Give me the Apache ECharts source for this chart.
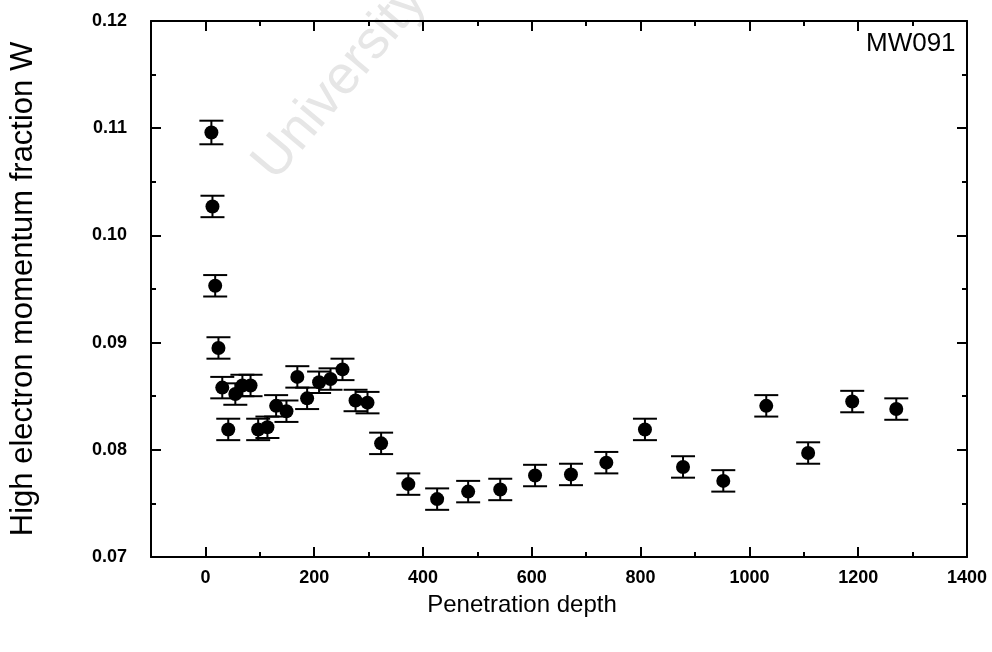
<!DOCTYPE html>
<html>
<head>
<meta charset="utf-8">
<script src="https://cdn.jsdelivr.net/npm/echarts@6/dist/echarts.min.js"></script>
<style>
  html, body { margin: 0; padding: 0; background: #fff; }
  #chart { width: 992px; height: 652px; }
</style>
</head>
<body>
<div id="chart"></div>
<script>
// Penetration depth of each measurement
const depth = [11, 13, 18, 24, 31, 42, 55, 68, 83, 97, 114, 130, 149, 169, 187, 209, 230, 252, 276, 298,
               323, 373, 426, 483, 542, 606, 672, 737, 808, 878, 952, 1031, 1108, 1189, 1270];
// High electron momentum fraction W
const wValue = [0.1096, 0.1027, 0.0953, 0.0895, 0.0858, 0.0819, 0.0852, 0.0860, 0.0860, 0.0819,
                0.0821, 0.0841, 0.0836, 0.0868, 0.0848, 0.0863, 0.0866, 0.0875, 0.0846, 0.0844,
                0.0806, 0.0768, 0.0754, 0.0761, 0.0763, 0.0776, 0.0777, 0.0788, 0.0819, 0.0784,
                0.0771, 0.0841, 0.0797, 0.0845, 0.0838];
// Uncertainty of W
const wError = [0.0011, 0.001, 0.001, 0.001, 0.001, 0.001, 0.001, 0.001, 0.001, 0.001,
                0.001, 0.001, 0.001, 0.001, 0.001, 0.001, 0.001, 0.001, 0.001, 0.001,
                0.001, 0.001, 0.001, 0.001, 0.001, 0.001, 0.001, 0.001, 0.001, 0.001,
                0.001, 0.001, 0.001, 0.001, 0.001];
// Axis ticks
const xMajorTicks = [0, 200, 400, 600, 800, 1000, 1200, 1400];
const xMinorTicks = [100, 300, 500, 700, 900, 1100, 1300];
const sampleLabel = 'MW091';

const points = depth.map((d, i) => [d, wValue[i]]);
const bars = depth.map((d, i) => [d, wValue[i] - wError[i], wValue[i] + wError[i]]);

const FONT = '"Liberation Sans", Arial, sans-serif';
const INK = '#000';

function errorBar(params, api) {
  const x = api.value(0);
  const lo = api.coord([x, api.value(1)]);
  const hi = api.coord([x, api.value(2)]);
  const half = 12;
  const style = { stroke: INK, lineWidth: 2 };
  return {
    type: 'group',
    children: [
      { type: 'line', shape: { x1: hi[0], y1: hi[1], x2: lo[0], y2: lo[1] }, style },
      { type: 'line', shape: { x1: hi[0] - half, y1: hi[1], x2: hi[0] + half, y2: hi[1] }, style },
      { type: 'line', shape: { x1: lo[0] - half, y1: lo[1], x2: lo[0] + half, y2: lo[1] }, style }
    ]
  };
}

const chart = echarts.init(document.getElementById('chart'), null, { renderer: 'canvas' });

const frameLine = { show: true, onZero: false, lineStyle: { color: INK, width: 2 } };
const tickStyle = { color: INK, width: 2 };
const labelText = { fontFamily: FONT, fontSize: 18, color: INK, fontWeight: 'bold' };

chart.setOption({
  backgroundColor: '#fff',
  animation: false,
  grid: { left: 151, right: 25, top: 21, bottom: 95 },
  graphic: [
    {
      type: 'text',
      left: 866, top: 31,
      z: 10,
      style: { text: sampleLabel, font: '26px ' + FONT, fill: INK }
    },
    {
      type: 'text',
      x: 340, y: 82,
      rotation: 50 * Math.PI / 180,
      z: 0,
      style: {
        text: 'University', font: '54px ' + FONT, fill: '#e6e6e6',
        align: 'center', verticalAlign: 'middle'
      }
    }
  ],
  xAxis: [
    {
      type: 'value', min: -100, max: 1400, position: 'bottom',
      name: 'Penetration depth', nameLocation: 'middle', nameGap: 36,
      nameTextStyle: { fontFamily: FONT, fontSize: 24, color: INK, padding: [0, 74, 0, 0] },
      axisLine: frameLine,
      axisTick: { show: true, inside: true, length: 10, customValues: xMajorTicks, lineStyle: tickStyle },
      axisLabel: Object.assign({ customValues: xMajorTicks, margin: 12, formatter: v => String(v) }, labelText),
      splitLine: { show: false }
    },
    {
      type: 'value', min: -100, max: 1400, position: 'bottom', gridIndex: 0,
      axisLine: { show: false },
      axisTick: { show: true, inside: true, length: 5, customValues: xMinorTicks, lineStyle: tickStyle },
      axisLabel: { show: false },
      splitLine: { show: false }
    },
    {
      type: 'value', min: -100, max: 1400, position: 'top', gridIndex: 0,
      axisLine: frameLine,
      axisTick: { show: true, inside: true, length: 10, customValues: xMajorTicks, lineStyle: tickStyle },
      axisLabel: { show: false },
      splitLine: { show: false }
    },
    {
      type: 'value', min: -100, max: 1400, position: 'top', gridIndex: 0,
      axisLine: { show: false },
      axisTick: { show: true, inside: true, length: 5, customValues: xMinorTicks, lineStyle: tickStyle },
      axisLabel: { show: false },
      splitLine: { show: false }
    }
  ],
  yAxis: [
    {
      type: 'value', min: 0.07, max: 0.12, interval: 0.01, position: 'left',
      name: 'High electron momentum fraction W', nameLocation: 'middle', nameGap: 112,
      nameTextStyle: { fontFamily: FONT, fontSize: 31, color: INK },
      axisLine: frameLine,
      axisTick: { show: true, inside: true, length: 10, lineStyle: tickStyle },
      minorTick: { show: true, splitNumber: 2, length: 5, lineStyle: tickStyle },
      axisLabel: Object.assign({ margin: 24, formatter: v => v.toFixed(2) }, labelText),
      splitLine: { show: false }
    },
    {
      type: 'value', min: 0.07, max: 0.12, interval: 0.01, position: 'right',
      axisLine: frameLine,
      axisTick: { show: true, inside: true, length: 10, lineStyle: tickStyle },
      minorTick: { show: true, splitNumber: 2, length: 5, lineStyle: tickStyle },
      axisLabel: { show: false },
      splitLine: { show: false }
    }
  ],
  series: [
    {
      type: 'custom',
      xAxisIndex: 0, yAxisIndex: 0,
      renderItem: errorBar,
      encode: { x: 0, y: [1, 2] },
      data: bars,
      z: 3
    },
    {
      type: 'scatter',
      xAxisIndex: 0, yAxisIndex: 0,
      symbol: 'circle', symbolSize: 14,
      itemStyle: { color: INK, opacity: 1 },
      data: points,
      z: 4
    }
  ]
});
</script>
</body>
</html>
